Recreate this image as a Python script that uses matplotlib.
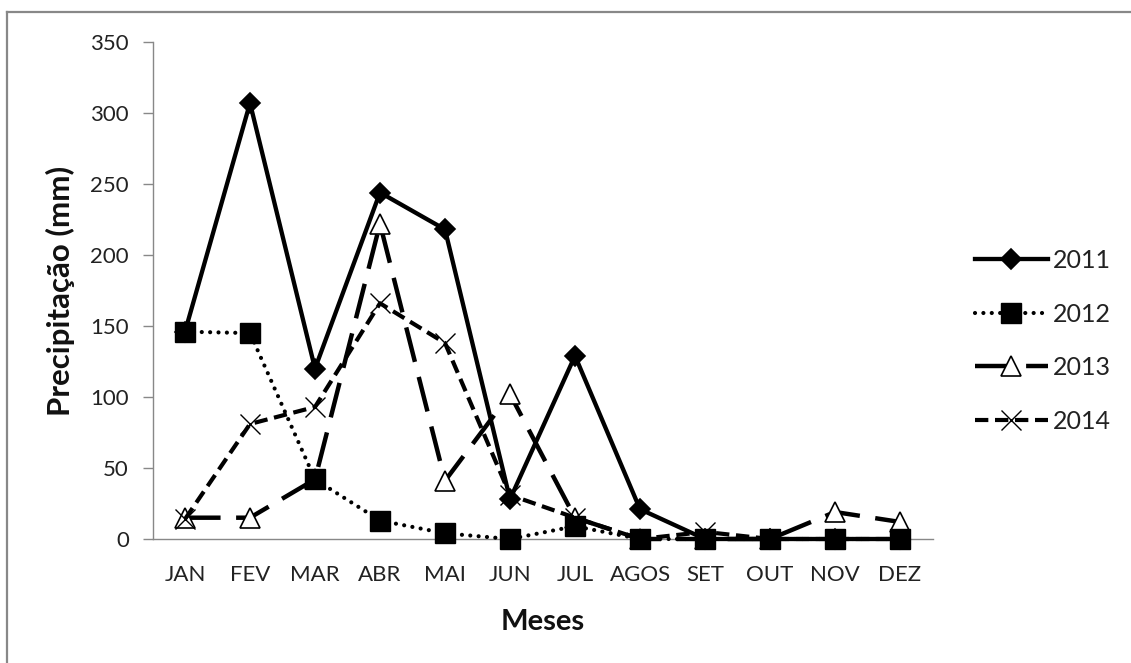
import matplotlib
matplotlib.use("Agg")
import matplotlib.pyplot as plt
from matplotlib.lines import Line2D

months = ["JAN", "FEV", "MAR", "ABR", "MAI", "JUN", "JUL", "AGOS", "SET", "OUT", "NOV", "DEZ"]
p2011 = [146, 307, 120, 244, 218, 28, 129, 21, 0, 0, 0, 0]
p2012 = [146, 145, 42, 13, 4, 0, 9, 0, 0, 0, 0, 0]
p2013 = [15, 15, 42, 222, 41, 102, 15, 0, 0, 0, 19, 12]
p2014 = [14, 81, 93, 166, 138, 31, 15, 0, 5, 0, 0, 0]
yticks = [0, 50, 100, 150, 200, 250, 300, 350]

plt.rcParams['font.family'] = ['Lato', 'DejaVu Sans']

W, H = 1131, 663
fig = plt.figure(figsize=(W / 100, H / 100), dpi=100)
ax = fig.add_axes([152.5 / W, (H - 539) / H, 780 / W, 497 / H])

x = list(range(len(months)))
h1, = ax.plot(x, p2011, color='black', lw=3.1, marker='D', ms=10.5,
              mfc='black', mec='black', mew=1.2, solid_joinstyle='miter', label='2011',
              zorder=3, clip_on=False)
h2, = ax.plot(x, p2012, color='black', lw=3.0, linestyle=(0, (0.01, 2.0)),
              dash_capstyle='round', marker='s', ms=15, mfc='black', mec='black',
              label='2012', zorder=5, clip_on=False)
h3, = ax.plot(x, p2013, color='black', lw=3.2, linestyle=(0, (8, 3.5)),
              dash_capstyle='butt', marker='^', ms=14, mfc='white', mec='black',
              mew=1.2, label='2013', zorder=4, clip_on=False)
h4, = ax.plot(x, p2014, color='black', lw=3.0, linestyle=(0, (3.2, 1.6)),
              dash_capstyle='butt', marker='x', ms=14, mec='black', mew=1.0,
              label='2014', zorder=6, clip_on=False)

ax.set_xlim(-0.5, len(months) - 0.5)
ax.set_ylim(0, 350)
ax.set_yticks(yticks)
ax.set_xticks(x)
ax.set_xticklabels(months)
ax.tick_params(axis='y', direction='out', length=7, width=1, color='#888888',
               labelsize=16, pad=10, labelcolor='#222222')
ax.tick_params(axis='x', length=0, labelsize=16, pad=19, labelcolor='#222222')
for s in ['top', 'right']:
    ax.spines[s].set_visible(False)
for s in ['left', 'bottom']:
    ax.spines[s].set_color('#888888')
    ax.spines[s].set_linewidth(1.0)

ax.set_ylabel('Precipitação (mm)', fontsize=22.5, fontweight='bold', labelpad=11, color='#111111')
ax.set_xlabel('Meses', fontsize=21, fontweight='bold', labelpad=17, color='#111111')

leg = fig.legend(handles=[h1, h2, h3, h4], loc='center left',
                 bbox_to_anchor=(965 / W, 1 - 341 / H), frameon=False,
                 fontsize=18, handlelength=2.9, handletextpad=0.2,
                 labelspacing=1.22, borderaxespad=0)
for t in leg.get_texts():
    t.set_color('#222222')

# outer chart border (top and left visible)
fig.add_artist(Line2D([7 / W, 1.0], [1 - 12 / H, 1 - 12 / H], transform=fig.transFigure,
                      color='#888888', lw=1.6))
fig.add_artist(Line2D([7 / W, 7 / W], [1 - 12 / H, 0.0], transform=fig.transFigure,
                      color='#888888', lw=1.6))

fig.savefig('out.png', dpi=100)
